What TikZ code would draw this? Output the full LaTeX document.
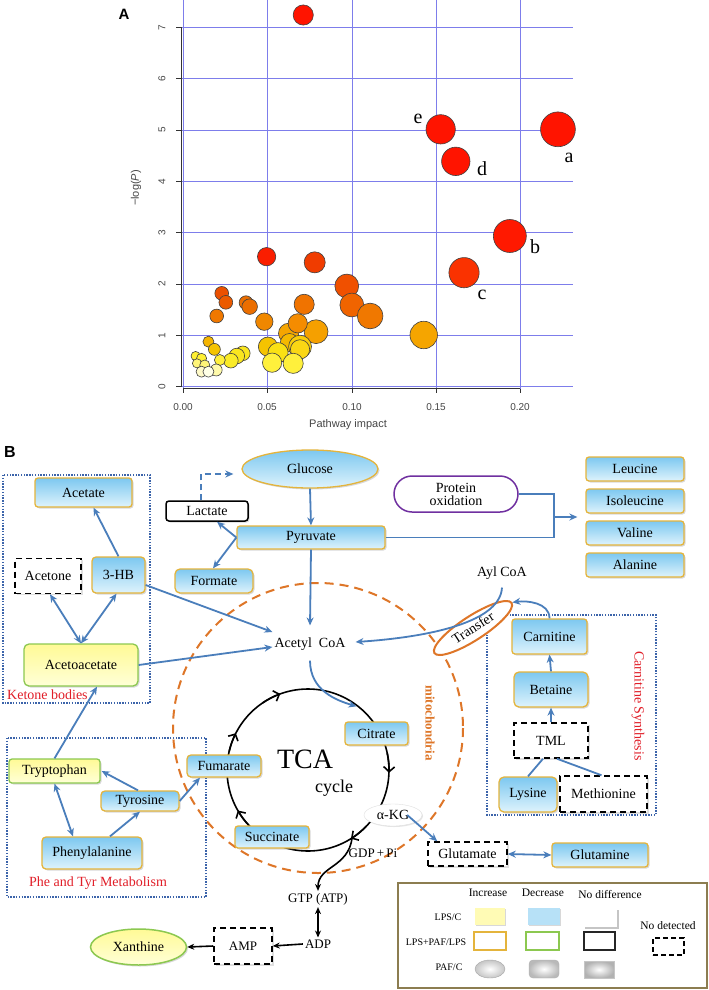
\documentclass[tikz,border=0pt]{standalone}
\usepackage{fontspec}
\setmainfont{Liberation Serif}
\setsansfont{Liberation Sans}
\usetikzlibrary{arrows.meta,shadows,shapes.geometric,calc}
\definecolor{blueA}{RGB}{125,200,240}
\definecolor{blueB}{RGB}{222,243,252}
\definecolor{goldc}{RGB}{228,180,60}
\definecolor{yelA}{RGB}{255,250,150}
\definecolor{yelB}{RGB}{255,255,215}
\definecolor{greenc}{RGB}{140,200,80}
\definecolor{arrb}{RGB}{74,126,187}
\definecolor{orangec}{RGB}{222,118,40}
\definecolor{purplec}{RGB}{112,48,160}
\definecolor{redt}{RGB}{225,30,40}
\definecolor{dotb}{RGB}{60,100,170}
\definecolor{gridc}{RGB}{125,125,235}
\definecolor{olivec}{RGB}{140,125,80}
\definecolor{tickc}{RGB}{70,70,70}
\newcommand{\myfs}[1]{\fontsize{#1}{#1}\selectfont}
\newcommand{\bub}[4]{\definecolor{bubc}{RGB}{#4}\filldraw[bubble] ({#1/2.183},{#2/3}) circle[radius={#3/2.183}];}
\tikzset{
  met/.style={rectangle, rounded corners=3pt, draw=goldc, line width=1.3pt, top color=blueA, bottom color=blueB,
    drop shadow={opacity=0.3,shadow xshift=1.5pt,shadow yshift=-1.5pt}, inner sep=1pt, font=\myfs{14}},
  yel/.style={met, draw=greenc, top color=yelA, bottom color=yelB},
  nd/.style={rectangle, draw=black, line width=1.5pt, dash pattern=on 6pt off 4pt, fill=white, inner sep=1pt,
    font=\myfs{14}, drop shadow={opacity=0.25,shadow xshift=1.5pt,shadow yshift=-1.5pt}},
  lbl/.style={font=\myfs{14}, inner sep=2pt},
  redlbl/.style={font=\myfs{14}, text=redt, inner sep=0pt},
  arr/.style={draw=arrb, line width=1.8pt, -{Stealth[length=8pt,width=7pt]}},
  arrr/.style={draw=arrb, line width=1.8pt, {Stealth[length=8pt,width=7pt]}-{Stealth[length=8pt,width=7pt]}},
  conn/.style={draw=arrb, line width=1.8pt},
  barr/.style={draw=black, line width=1.6pt, -{Stealth[length=7pt,width=6pt]}},
  barrr/.style={draw=black, line width=1.6pt, {Stealth[length=7pt,width=6pt]}-{Stealth[length=7pt,width=6pt]}},
  dotbox/.style={draw=dotb, line width=1.3pt, dash pattern=on 1.4pt off 1.4pt},
  mito/.style={draw=orangec, line width=2pt, dash pattern=on 9pt off 6pt},
  tcal/.style={draw=black, line width=1.6pt},
  gline/.style={draw=gridc, line width=0.8pt},
  bubble/.style={draw=black!75, line width=0.6pt, fill=bubc},
  ticklab/.style={font=\sffamily\myfs{10}, text=tickc, inner sep=0pt},
  leglab/.style={font=\myfs{11.5}, inner sep=0pt},
  rowlab/.style={font=\myfs{10}, inner sep=0pt},
}
\begin{document}
\begin{tikzpicture}[x=1pt,y=-1pt]
\useasboundingbox (0,0) rectangle (709,990);
\fill[white] (0,0) rectangle (709,990);

% ================= Panel A =================
\node[font=\sffamily\bfseries\myfs{15}] (labA) at (124,14) {A};
\foreach \x in {183,267,352,436,520} \draw[gline] (\x,0) -- (\x,392);
\foreach \v in {0,...,7} \draw[gline] (181,{386.7-51.33*\v}) -- (573,{386.7-51.33*\v});
\draw[black!80, line width=0.8pt] (181,27.3) -- (181,386.7);
\foreach \v in {0,...,7} {
  \draw[black!80, line width=0.8pt] (176,{386.7-51.33*\v}) -- (181,{386.7-51.33*\v});
  \node[ticklab, rotate=90] at (162,{386.7-51.33*\v}) {\v};
}
\draw[black!80, line width=0.8pt] (183,388.5) -- (520,388.5);
\foreach \x/\t in {183/0.00,267/0.05,352/0.10,436/0.15,520/0.20} {
  \draw[black!80, line width=0.8pt] (\x,388.5) -- (\x,393);
  \node[ticklab] at (\x,407) {\t};
}
\node[font=\sffamily\myfs{11}, text=tickc, rotate=90] (ylab) at (136,188) {−log(\textit{P})};
\node[font=\sffamily\myfs{11}, text=tickc] (xlab) at (348,425) {Pathway impact};

% bubbles
\bub{630}{1000}{22}{245,165,0}
\bub{690}{995}{26}{245,160,0}
\bub{577}{965}{19}{240,135,0}
\bub{650}{970}{21}{245,140,0}
\bub{585}{1040}{21}{245,195,0}
\bub{632}{1028}{20}{245,185,0}
\bub{655}{1040}{25}{250,205,10}
\bub{655}{1048}{21}{250,215,20}
\bub{607}{1058}{22}{250,225,20}
\bub{594}{1088}{21}{255,240,60}
\bub{640}{1090}{22}{255,240,60}
\bub{455}{1025}{12}{245,180,0}
\bub{468}{1048}{13}{245,195,0}
\bub{530}{1060}{16}{250,230,30}
\bub{517}{1068}{17}{250,230,30}
\bub{504}{1082}{16}{250,235,40}
\bub{480}{1080}{12}{255,240,60}
\bub{427}{1068}{10}{255,240,50}
\bub{440}{1075}{11}{255,240,50}
\bub{430}{1090}{10}{255,245,120}
\bub{447}{1095}{11}{255,245,120}
\bub{472}{1110}{13}{255,250,170}
\bub{440}{1115}{12}{255,250,200}
\bub{455}{1115}{12}{255,255,230}
\bub{484}{880}{15}{235,80,0}
\bub{493}{907}{15}{235,90,0}
\bub{537}{908}{15}{235,110,0}
\bub{545}{920}{17}{235,110,0}
\bub{473}{948}{15}{240,120,0}
\bub{664}{913}{22}{240,115,0}
\bub{757}{858}{26}{240,80,0}
\bub{768}{915}{26}{240,100,0}
\bub{808}{948}{28}{240,120,0}
\bub{925}{1005}{30}{245,165,0}
\bub{582}{770}{20}{250,30,0}
\bub{687}{787}{23}{240,60,0}
\bub{662}{45}{22}{255,20,0}
\bub{962}{388}{32}{255,20,0}
\bub{1218}{388}{38}{255,20,0}
\bub{995}{484}{31}{255,20,0}
\bub{1113}{708}{36}{255,25,0}
\bub{1013}{818}{33}{250,50,0}
\node[font=\myfs{20}] (le) at (418,119) {e};
\node[font=\myfs{20}] (la) at (569,158) {a};
\node[font=\myfs{20}] (ld) at (482,169) {d};
\node[font=\myfs{20}] (lb) at (535,247) {b};
\node[font=\myfs{20}] (lc) at (482,295) {c};

% ================= Panel B =================
\node[font=\sffamily\bfseries\myfs{16}] (labB) at (10,452) {B};

% mitochondria and TCA circle
\draw[mito] (318,728) circle[radius=145];
\coordinate (tc) at (308,770);
\draw[tcal] (tc) circle[radius=81];
\foreach \a in {250,2,58,150,207}
  \draw[tcal, -{Straight Barb[length=5pt,width=11pt]}] ($(tc)+({\a-14}:81)$) arc[start angle={\a-14}, end angle=\a, radius=81];
\node[font=\myfs{13}\bfseries, text=orangec, rotate=-90] (mitol) at (430,723) {mitochondria};
\node[font=\myfs{28}] (tcat) at (305,759) {TCA};
\node[font=\myfs{18}] (cyct) at (334,788) {cycle};

% dotted group boxes
\draw[dotbox] (3,475) rectangle (150,703);
\draw[dotbox] (7,738) rectangle (206,897);
\draw[dotbox] (487,615) rectangle (656,815);

% Ketone bodies
\node[met, minimum width=97pt, minimum height=29pt] (acetate) at (83.5,492.5) {Acetate};
\node[nd, minimum width=66pt, minimum height=35pt] (acetone) at (48,576) {Acetone};
\node[met, rounded corners=4pt, minimum width=53pt, minimum height=36pt] (hb) at (118.5,575) {3-HB};
\node[yel, rounded corners=5pt, minimum width=114pt, minimum height=42pt] (acetoac) at (81,665) {Acetoacetate};
\node[redlbl, anchor=west] (ketl) at (7,695) {Ketone bodies};

% top
\node[ellipse, draw=goldc, line width=1.3pt, top color=blueA, bottom color=blueB, minimum width=136pt, minimum height=38pt,
  drop shadow={opacity=0.3,shadow xshift=1.5pt,shadow yshift=-1.5pt}, font=\myfs{14}] (glucose) at (310,469) {Glucose};
\node[rectangle, rounded corners=3pt, draw=black, line width=1.5pt, fill=white, minimum width=82pt, minimum height=20pt,
  font=\myfs{14}, inner sep=0pt, drop shadow={opacity=0.3,shadow xshift=1.5pt,shadow yshift=-1.5pt}] (lactate) at (207,511) {Lactate};
\node[met, minimum width=148pt, minimum height=23pt] (pyruvate) at (311,537.5) {Pyruvate};
\node[met, rounded corners=5pt, minimum width=78pt, minimum height=24pt] (formate) at (214,581) {Formate};
\node[lbl] (acetyl) at (310,644) {Acetyl\enspace CoA};
\node[rectangle, rounded corners=18pt, draw=purplec, line width=1.5pt, fill=white, minimum width=124pt, minimum height=36pt,
  align=center, font=\myfs{14}, inner sep=0pt] (protein) at (456,494) {Protein\\[-1pt]oxidation};
\node[met, minimum width=98pt, minimum height=24pt] (leucine) at (635,469) {Leucine};
\node[met, minimum width=98pt, minimum height=24pt] (isoleucine) at (635,501) {Isoleucine};
\node[met, minimum width=98pt, minimum height=24pt] (valine) at (635,533) {Valine};
\node[met, minimum width=98pt, minimum height=24pt] (alanine) at (635,565) {Alanine};
\node[lbl] (aylcoa) at (502,573) {Ayl CoA};
\node[ellipse, draw=orangec, line width=2pt, fill=white, minimum width=92pt, minimum height=24pt, inner sep=0pt,
  rotate=33, font=\myfs{14}] (transfer) at (473,628) {Transfer};

% carnitine synthesis
\node[met, minimum width=75pt, minimum height=35pt] (carnitine) at (549.5,636.5) {Carnitine};
\node[met, rounded corners=5pt, minimum width=74pt, minimum height=35pt] (betaine) at (551,689.5) {Betaine};
\node[nd, minimum width=74pt, minimum height=35pt] (tml) at (551,740.5) {TML};
\node[met, rounded corners=5pt, minimum width=58pt, minimum height=35pt] (lysine) at (528,794.5) {Lysine};
\node[nd, minimum width=87pt, minimum height=36pt] (methionine) at (603.5,794) {Methionine};
\node[redlbl, rotate=-90] (carsyn) at (638,706) {Carnitine Synthesis};

% TCA metabolites
\node[met, minimum width=63pt, minimum height=23pt] (citrate) at (376.5,733.5) {Citrate};
\node[met, rounded corners=4pt, minimum width=74pt, minimum height=22pt] (fumarate) at (224,766) {Fumarate};
\node[met, minimum width=74pt, minimum height=22pt] (succinate) at (272,837) {Succinate};
\node[ellipse, draw=gray!25, fill=white, minimum width=58pt, minimum height=22pt, inner sep=0pt, font=\myfs{14},
  drop shadow={opacity=0.2,shadow xshift=1pt,shadow yshift=-1pt}] (akg) at (393,815) {α-KG};
\node[nd, minimum width=79pt, minimum height=24pt] (glutamate) at (467.5,854) {Glutamate};
\node[met, minimum width=96pt, minimum height=24pt] (glutamine) at (600,855) {Glutamine};

% Phe and Tyr
\node[yel, minimum width=91pt, minimum height=24pt] (tryptophan) at (54.5,771) {Tryptophan};
\node[met, rounded corners=4pt, minimum width=78pt, minimum height=20pt] (tyrosine) at (140,801) {Tyrosine};
\node[met, rounded corners=4pt, minimum width=100pt, minimum height=32pt] (phenyl) at (92,853) {Phenylalanine};
\node[redlbl] (phetyr) at (98,883) {Phe and Tyr Metabolism};

% energy
\node[lbl, font=\myfs{13}] (gdp) at (373,853) {GDP\,+\,Pi};
\node[lbl, font=\myfs{13}] (gtp) at (318,899) {GTP (ATP)};
\node[lbl, font=\myfs{13}] (adp) at (318,944) {ADP};
\node[nd, minimum width=58pt, minimum height=36pt, font=\myfs{13}] (amp) at (243,946) {AMP};
\node[ellipse, draw=greenc, line width=1.5pt, top color=yelA, bottom color=yelB, minimum width=96pt, minimum height=36pt,
  font=\myfs{14}, drop shadow={opacity=0.3,shadow xshift=1.5pt,shadow yshift=-1.5pt}] (xanthine) at (138.5,947) {Xanthine};

% ---------- connectors ----------
\draw[arr] (hb.north) -- ([xshift=10pt]acetate.south);
\draw[arrr] (acetoac.north) -- ([xshift=2pt]acetone.south);
\draw[arrr] (acetoac.north) -- ([xshift=-2pt]hb.south);
\draw[arr] ([yshift=-10pt]hb.east) -- ([yshift=12pt]acetyl.west);
\draw[arr] (acetoac.east) -- ([yshift=-3pt]acetyl.west);
\draw[arr] (glucose.south) -- (pyruvate.north);
\draw[arr] (pyruvate.south) -- ([yshift=10pt]acetyl.north);
\draw[arr] (pyruvate.west) -- ([xshift=10pt]lactate.south);
\draw[arr] (pyruvate.west) -- ([xshift=-1pt]formate.north);
\draw[arr, dash pattern=on 6pt off 4pt] ([xshift=-6pt]lactate.north) |- ([xshift=-8pt,yshift=-5pt]glucose.west);
\coordinate (jbot) at (554,537.5);
\coordinate (jmid) at (554,517);
\draw[conn] (protein.east) -| (jbot) -- (pyruvate.east);
\draw[arr] (jmid) -- ([xshift=-8pt]$(isoleucine.west)!0.5!(valine.west)$);
\draw[arr] ([yshift=-6pt]aylcoa.south) .. controls +(-2,38) and +(60,-4) .. ([xshift=8pt,yshift=2pt]acetyl.east);
\draw[arr] (carnitine.north) .. controls +(0,-16) and +(14,-2) .. (transfer.east);
\draw[arr] (betaine.north) -- (carnitine.south);
\draw[arr] (tml.north) -- (betaine.south);
\draw[conn] (lysine.north) -- ([xshift=-8pt]tml.south);
\draw[conn] ([xshift=-2pt]methionine.north) -- ([xshift=6pt]tml.south);
\draw[arr] ([yshift=-8pt]acetyl.south) .. controls +(0,30) and +(-20,-6) .. ([xshift=-20pt,yshift=15pt]citrate.north);
\draw[arr] ([xshift=-15pt]akg.east) -- ([xshift=10pt]glutamate.north west);
\draw[arrr] (glutamate.east) -- (glutamine.west);
\draw[arr] (tryptophan.north) -- ([xshift=16pt]acetoac.south);
\draw[arr] ([xshift=-2pt]tyrosine.north) -- ([xshift=1pt]tryptophan.east);
\draw[arrr] (tryptophan.south) -- ([xshift=-19pt]phenyl.north);
\draw[arr] ([xshift=18pt]phenyl.north) -- (tyrosine.south);
\draw[arr] (tyrosine.east) -- ([xshift=-24pt]fumarate.south);
\coordinate (gj) at ($(tc)+(57:81)$);
\draw[barr] (gj) .. controls +(-4,30) and +(0,-25) .. (gtp.north);
\draw[barrr] (gtp.south) -- (adp.north);
\draw[barr] (adp.west) -- (amp.east);
\draw[barr] (amp.west) -- (xanthine.east);

% ---------- legend ----------
\draw[draw=olivec, line width=1.6pt] (398,883) rectangle (707,988);
\node[leglab] (linc) at (488,893) {Increase};
\node[leglab] (ldec) at (543,893) {Decrease};
\node[leglab] (lnod) at (610,894) {No difference};
\node[rowlab] (r1) at (448,917) {LPS/C};
\node[rowlab] (r2) at (436,942) {LPS+PAF/LPS};
\node[rowlab] (r3) at (449,967) {PAF/C};
\node[rectangle, fill=yelA!70, minimum width=30pt, minimum height=17pt, drop shadow={opacity=0.3,shadow xshift=1.2pt,shadow yshift=-1.2pt}] (s11) at (490,916.5) {};
\node[rectangle, fill=blueA!55, minimum width=32pt, minimum height=17pt, drop shadow={opacity=0.3,shadow xshift=1.2pt,shadow yshift=-1.2pt}] (s12) at (544,916.5) {};
\node[rectangle, fill=white, minimum width=34pt, minimum height=19pt, drop shadow={opacity=0.45,shadow xshift=1.5pt,shadow yshift=-1.5pt}] (s13) at (600,917.5) {};
\node[rectangle, draw=goldc, line width=1.2pt, fill=white, minimum width=32pt, minimum height=18pt] (s21) at (490,941) {};
\node[rectangle, draw=greenc, line width=1.2pt, fill=white, minimum width=33pt, minimum height=18pt] (s22) at (542.5,941) {};
\node[rectangle, draw=black!85, line width=1.3pt, fill=white, minimum width=31pt, minimum height=18pt] (s23) at (599.5,941) {};
\node[ellipse, draw=gray!70, inner color=white, outer color=gray!45, minimum width=30pt, minimum height=18pt] (s31) at (490,969) {};
\node[rectangle, rounded corners=4pt, draw=gray!60, inner color=white, outer color=gray!55, minimum width=30pt, minimum height=18pt] (s32) at (544,969) {};
\node[rectangle, draw=gray!45, inner color=white, outer color=gray!60, minimum width=30pt, minimum height=17pt] (s33) at (599,969.5) {};
\node[leglab] (lnodet) at (668,926) {No detected};
\node[rectangle, draw=black, line width=1.4pt, dash pattern=on 5pt off 3pt, fill=white, minimum width=31pt, minimum height=17pt] (s4) at (668.5,946.5) {};
\end{tikzpicture}
\end{document}
